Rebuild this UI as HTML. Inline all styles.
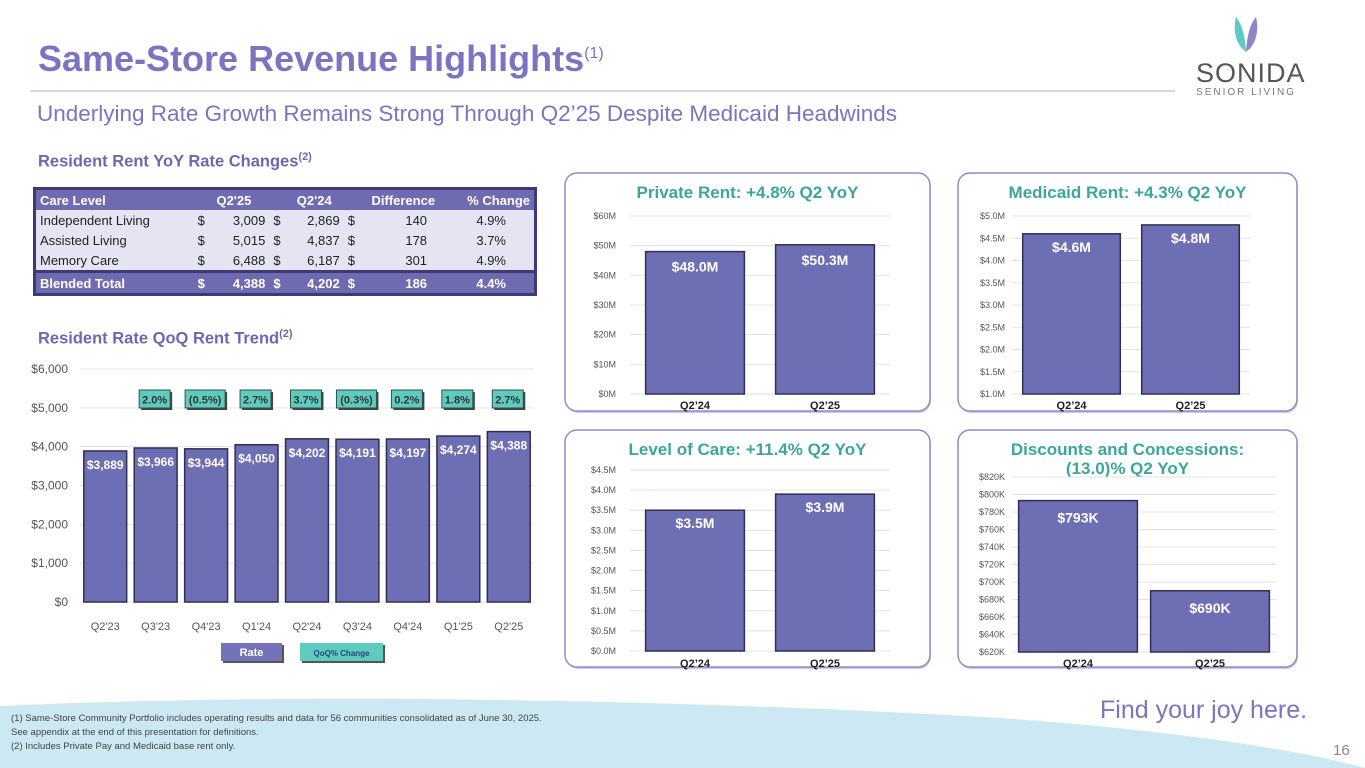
<!DOCTYPE html>
<html><head><meta charset="utf-8">
<style>
body{margin:0;width:1365px;height:768px;overflow:hidden;background:#fff;font-family:"Liberation Sans",sans-serif;position:relative}
.abs{position:absolute}
.title{left:38px;top:38px;font-size:36px;color:#7b74c0;font-weight:bold;letter-spacing:0px}
.title sup{font-size:16px;font-weight:normal}
.sub{left:37px;top:101px;font-size:22.5px;color:#7b74c0}
.sec{font-size:16.5px;font-weight:bold;color:#6e67b0}
.sec sup{font-size:11px}
table{border-collapse:collapse;font-size:13px;color:#222}
.tbl{left:33px;top:187px;width:504px;border:3px solid #3c3a78;box-sizing:border-box}
.tbl td{padding:0 4px;height:20px;text-align:left}
.tbl tr.h td,.tbl tr.t td{background:#6e6bb0;color:#fff;font-weight:bold}
.tbl tr.b td{background:#e4e4f3}
.tbl td.r{text-align:right}
.foot{left:11px;font-size:9.5px;color:#444}
</style></head><body>
<div class="abs title">Same-Store Revenue Highlights<sup>(1)</sup></div>
<div class="abs" style="left:30px;top:90px;width:1145px;height:2px;background:#d8d8d8"></div>
<div class="abs sub">Underlying Rate Growth Remains Strong Through Q2’25 Despite Medicaid Headwinds</div>
<div class="abs" style="left:1196px;top:14px;width:100px;text-align:center">
<svg width="34" height="40" viewBox="0 0 34 40"><path d="M17 38 C6 30 4 15 7 3 C13 10 16 22 17 38Z" fill="#5fc9c4"/><path d="M17 38 C28 30 30 15 27 3 C21 10 18 22 17 38Z" fill="#8f86c8"/></svg>
<div style="font-size:27px;color:#555;line-height:28px;letter-spacing:1px">SONIDA</div>
<div style="font-size:10px;color:#777;letter-spacing:2px;white-space:nowrap">SENIOR LIVING</div></div>
<div class="abs sec" style="left:38px;top:151px">Resident Rent YoY Rate Changes<sup>(2)</sup></div>
<table class="abs tbl">
<tr class="h"><td>Care Level</td><td colspan="2" class="r" style="padding-right:18px">Q2'25</td><td colspan="2" class="r" style="padding-right:12px">Q2'24</td><td colspan="2" class="r">Difference</td><td class="r">% Change</td></tr>
<tr class="b"><td>Independent Living</td><td>$</td><td class="r">3,009</td><td>$</td><td class="r">2,869</td><td>$</td><td class="r" style="padding-right:12px">140</td><td class="r" style="padding-right:28px">4.9%</td></tr>
<tr class="b"><td>Assisted Living</td><td>$</td><td class="r">5,015</td><td>$</td><td class="r">4,837</td><td>$</td><td class="r" style="padding-right:12px">178</td><td class="r" style="padding-right:28px">3.7%</td></tr>
<tr class="b"><td>Memory Care</td><td>$</td><td class="r">6,488</td><td>$</td><td class="r">6,187</td><td>$</td><td class="r" style="padding-right:12px">301</td><td class="r" style="padding-right:28px">4.9%</td></tr>
<tr class="t" style="border-top:3px solid #3c3a78"><td>Blended Total</td><td>$</td><td class="r">4,388</td><td>$</td><td class="r">4,202</td><td>$</td><td class="r" style="padding-right:12px">186</td><td class="r" style="padding-right:28px">4.4%</td></tr>
</table>
<div class="abs sec" style="left:38px;top:328px">Resident Rate QoQ Rent Trend<sup>(2)</sup></div>

<svg class="abs" style="left:0;top:0" width="1365" height="768" id="svg">
<path d="M0 706 C300 692 700 700 1000 718 C1200 732 1320 755 1365 768 L0 768Z" fill="#cbe8f3"/>
</svg>
<div class="abs foot" style="top:713px">(1) Same-Store Community Portfolio includes operating results and data for 56 communities consolidated as of June 30, 2025.</div>
<div class="abs foot" style="top:727px">See appendix at the end of this presentation for definitions.</div>
<div class="abs foot" style="top:741px">(2) Includes Private Pay and Medicaid base rent only.</div>
<div class="abs" style="left:1100px;top:696px;font-size:25px;color:#7b74c0">Find your joy here.</div>
<div class="abs" style="left:1333px;top:742px;font-size:15px;color:#888">16</div>

<script>
const trendCats=["Q2'23","Q3'23","Q4'23","Q1'24","Q2'24","Q3'24","Q4'24","Q1'25","Q2'25"];
const trendVals=[3889,3966,3944,4050,4202,4191,4197,4274,4388];
const trendLabels=["$3,889","$3,966","$3,944","$4,050","$4,202","$4,191","$4,197","$4,274","$4,388"];
const qoqLabels=["","2.0%","(0.5%)","2.7%","3.7%","(0.3%)","0.2%","1.8%","2.7%"];
const trendTicks=[0,1000,2000,3000,4000,5000,6000];
const trendTickLabels=["$0","$1,000","$2,000","$3,000","$4,000","$5,000","$6,000"];

const yoyCats=["Q2’24","Q2’25"];
const privVals=[48.0,50.3];
const privLabels=["$48.0M","$50.3M"];
const privTicks=[0,10,20,30,40,50,60];
const privTickLabels=["$0M","$10M","$20M","$30M","$40M","$50M","$60M"];
const medVals=[4.6,4.8];
const medLabels=["$4.6M","$4.8M"];
const medTicks=[1.0,1.5,2.0,2.5,3.0,3.5,4.0,4.5,5.0];
const medTickLabels=["$1.0M","$1.5M","$2.0M","$2.5M","$3.0M","$3.5M","$4.0M","$4.5M","$5.0M"];
const locVals=[3.5,3.9];
const locLabels=["$3.5M","$3.9M"];
const locTicks=[0,0.5,1.0,1.5,2.0,2.5,3.0,3.5,4.0,4.5];
const locTickLabels=["$0.0M","$0.5M","$1.0M","$1.5M","$2.0M","$2.5M","$3.0M","$3.5M","$4.0M","$4.5M"];
const discVals=[793,690];
const discLabels=["$793K","$690K"];
const discTicks=[620,640,660,680,700,720,740,760,780,800,820];
const discTickLabels=["$620K","$640K","$660K","$680K","$700K","$720K","$740K","$760K","$780K","$800K","$820K"];

const NS="http://www.w3.org/2000/svg";
const svg=document.getElementById('svg');
function mk(tag,attrs,parent){const e=document.createElementNS(NS,tag);for(const k in attrs)e.setAttribute(k,attrs[k]);(parent||svg).appendChild(e);return e;}
function txt(s,attrs,parent){const e=mk('text',attrs,parent);e.textContent=s;return e;}

function panel(x,y,w,h,titleLines,name){
  const g=mk('g',{});
  
  
  mk('rect',{x:x+1,y:y+2,width:w,height:h,rx:12,fill:'#c9c7e6'},g);
  mk('rect',{x:x,y:y,width:w,height:h,rx:12,fill:'#fff',stroke:'#8f8ccb','stroke-width':1.5},g);
  titleLines.forEach((t,i)=>{const e=txt(t,{x:x+w/2,y:y+25+i*19,'text-anchor':'middle','font-size':17,'font-weight':'bold',fill:'#3aa79a'},g);
    
    });
  return g;
}

function barChart(o){
  const g=mk('g',{});
  
  
  const ymin=o.ticks[0],ymax=o.ticks[o.ticks.length-1];
  const Y=v=>o.y1-(v-ymin)/(ymax-ymin)*(o.y1-o.y0);
  const step=(o.x1-o.x0)/o.cats.length;
  const X=i=>o.x0+step*(i+0.5);
  o.ticks.forEach((t,i)=>{
    const l=mk('line',{x1:o.x0,x2:o.x1,y1:Y(t),y2:Y(t),stroke:'#e3e3e3','stroke-width':1},g);
    
    
    const e=txt(o.tickLabels[i],{x:o.x0-o.lblGap,y:Y(t)+o.tfs/3,'text-anchor':'end','font-size':o.tfs,fill:'#555'},g);
    
    
  });
  o.vals.forEach((v,i)=>{
    const bw=step*o.bwf;
    const r=mk('rect',{x:X(i)-bw/2,y:Y(v),width:bw,height:Y(ymin)-Y(v),fill:'#6e6eb4',stroke:'#2f2f55','stroke-width':1.5},g);
    
    
    const t=txt(o.labels[i],{x:X(i),y:Y(v)+o.vOff,'text-anchor':'middle','font-size':o.vfs,'font-weight':'bold',fill:'#fff'},g);
    
    
    const c=txt(o.cats[i],{x:X(i),y:o.catY,'text-anchor':'middle','font-size':o.cfs,'font-weight':o.cbold?'bold':'normal',fill:o.cbold?'#222':'#555'},g);
    
    
  });
  return {X,Y};
}

const tr=barChart({name:'qoq-rent-trend-chart',cats:trendCats,vals:trendVals,labels:trendLabels,ticks:trendTicks,tickLabels:trendTickLabels,
  x0:80,x1:534,y0:369,y1:602,bwf:0.85,vOff:18,vfs:12,tfs:12,lblGap:12,catY:630,cfs:11,cbold:false});
qoqLabels.forEach((s,i)=>{
  if(!s)return;
  const g=mk('g',{});
  
  
  const w=s.length>4?40:31;
  mk('rect',{x:tr.X(i)-w/2+1,y:392,width:w,height:18,fill:'#444'},g);
  mk('rect',{x:tr.X(i)-w/2-1,y:390,width:w,height:18,fill:'#5ecbbf',stroke:'#2f4f4f','stroke-width':1},g);
  txt(s,{x:tr.X(i)-1,y:403.5,'text-anchor':'middle','font-size':11,'font-weight':'bold',fill:'#333'},g);
});
[['Rate',221,61,'#7472b8','#fff',11,'legend-rate'],['QoQ% Change',300,83,'#5ecbbf','#2f3f7f',8,'legend-qoq-change']].forEach(l=>{
  const g=mk('g',{});
  
  
  mk('rect',{x:l[1]+2,y:645,width:l[2],height:18,fill:'#555'},g);
  mk('rect',{x:l[1],y:643,width:l[2],height:18,fill:l[3]},g);
  txt(l[0],{x:l[1]+l[2]/2,y:656,'text-anchor':'middle','font-size':l[5],'font-weight':'bold',fill:l[4]},g);
});

panel(565,173,365,238,['Private Rent: +4.8% Q2 YoY'],'private-rent-panel');
barChart({name:'private-rent-chart',cats:yoyCats,vals:privVals,labels:privLabels,ticks:privTicks,tickLabels:privTickLabels,
  x0:630,x1:890,y0:216,y1:394,bwf:0.76,vOff:20,vfs:14,tfs:9,lblGap:14,catY:409,cfs:11,cbold:true});
panel(958,173,339,238,['Medicaid Rent: +4.3% Q2 YoY'],'medicaid-rent-panel');
barChart({name:'medicaid-rent-chart',cats:yoyCats,vals:medVals,labels:medLabels,ticks:medTicks,tickLabels:medTickLabels,
  x0:1012,x1:1250,y0:216,y1:394,bwf:0.82,vOff:18,vfs:14,tfs:9,lblGap:7,catY:409,cfs:11,cbold:true});
panel(565,430,365,237,['Level of Care: +11.4% Q2 YoY'],'level-of-care-panel');
barChart({name:'level-of-care-chart',cats:yoyCats,vals:locVals,labels:locLabels,ticks:locTicks,tickLabels:locTickLabels,
  x0:630,x1:890,y0:470,y1:651,bwf:0.76,vOff:18,vfs:14,tfs:9,lblGap:14,catY:667,cfs:11,cbold:true});
panel(958,430,339,237,['Discounts and Concessions:','(13.0)% Q2 YoY'],'discounts-panel');
barChart({name:'discounts-chart',cats:yoyCats,vals:discVals,labels:discLabels,ticks:discTicks,tickLabels:discTickLabels,
  x0:1012,x1:1276,y0:477,y1:652,bwf:0.9,vOff:22,vfs:14,tfs:9,lblGap:7,catY:667,cfs:11,cbold:true});
</script>
</body></html>
